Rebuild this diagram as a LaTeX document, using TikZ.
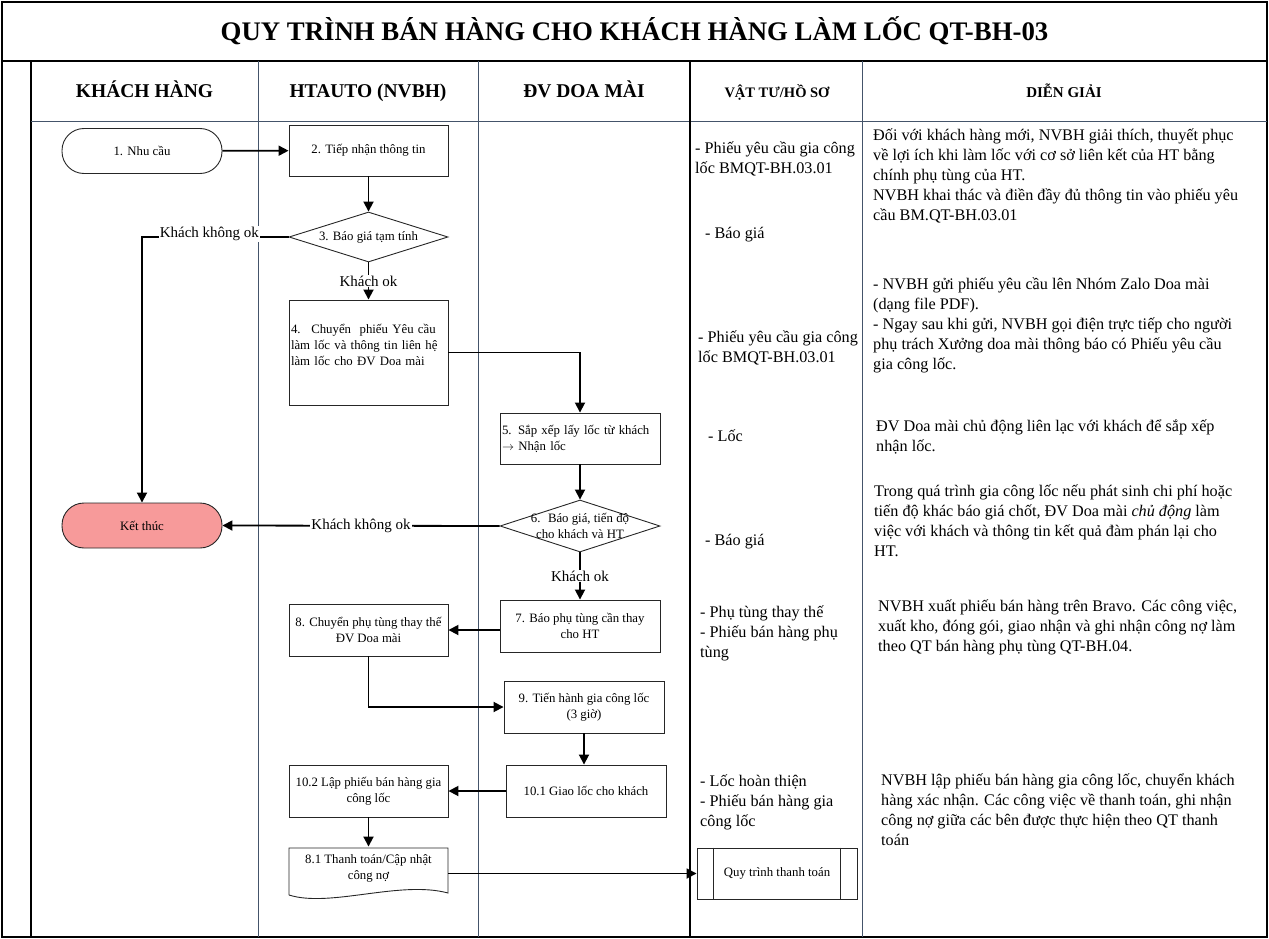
\documentclass[tikz,border=0pt]{standalone}
\usepackage{fontspec}
\setmainfont{Liberation Serif}
\usepackage{xcolor}
\usetikzlibrary{arrows.meta,positioning,shapes.geometric}

\definecolor{lanecol}{HTML}{44546A}
\definecolor{boxcol}{HTML}{262626}
\definecolor{endcol}{HTML}{F79A9A}
\newcommand{\boxfont}{\fontsize{12.8}{16}\selectfont}
\newcommand{\notefont}{\fontsize{16.2}{20}\selectfont}
\newcommand{\lblfont}{\fontsize{15}{16}\selectfont}

\begin{document}
\begin{tikzpicture}[x=1pt, y=-1pt,
  proc/.style={draw=boxcol, line width=0.9pt, rectangle, minimum width=159pt,
    minimum height=51pt, align=center, font=\boxfont, inner sep=2pt},
  term/.style={draw=boxcol, line width=0.9pt, rectangle, rounded corners=22pt,
    minimum width=160pt, minimum height=45pt, font=\boxfont},
  dec/.style={draw=boxcol, line width=0.9pt, diamond, inner sep=0pt,
    minimum width=159pt, minimum height=50pt},
  dectext/.style={font=\boxfont, align=center, inner sep=0pt},
  flow/.style={line width=1.8pt, -{Triangle[length=10pt,width=10pt]}},
  lbl/.style={font=\lblfont, fill=white, inner sep=1pt},
  note/.style={anchor=north west, align=left, inner sep=0pt, font=\notefont,
    execute at begin node=\strut},
  head/.style={font=\fontsize{19.5}{22}\selectfont\bfseries, text height=14pt,
    text depth=4pt},
  lane/.style={draw=lanecol, line width=0.9pt}]
\useasboundingbox (0,0) rectangle (1269,939);

\draw[line width=1.4pt] (2,2) rectangle (1267,937);
\draw[line width=1.2pt] (2,61) -- (1267,61);
\draw[line width=1.2pt] (31,61) -- (31,937);
\draw[lane] (31,121) -- (1267,121);
\draw[lane] (258,61) -- (258,937);
\draw[lane] (478,61) -- (478,937);
\draw[line width=1.2pt] (690,61) -- (690,937);
\draw[lane] (862,61) -- (862,937);

\node[font=\fontsize{26.8}{30}\selectfont\bfseries] (title) at (634.5,31)
  {QUY TRÌNH BÁN HÀNG CHO KHÁCH HÀNG LÀM LỐC QT-BH-03};
\node[head] (hkh) at (144.5,93) {KHÁCH HÀNG};
\node[head] (hht) at (368,93) {HTAUTO (NVBH)};
\node[head] (hdv) at (584,93) {ĐV DOA MÀI};
\node[head, font=\fontsize{14.5}{17}\selectfont\bfseries] (hvt) at (777,93) {VẬT TƯ/HỒ SƠ};
\node[head, font=\fontsize{15}{17}\selectfont\bfseries] (hdg) at (1064,93) {DIỄN GIẢI};

\node[term] (n1) at (142,151) {1. Nhu cầu};
\node[proc] (n2) at (368.5,150.5) {2. Tiếp nhận thông tin};
\node[dec, label={[dectext]center:3. Báo giá tạm tính}] (n3) at (368.5,237) {};
\node[proc, minimum height=105pt, text width=155pt, align=left] (n4) at (368.5,352.5)
  {4.~ Chuyển~ phiếu Yêu cầu\\làm lốc và thông tin liên hệ\\làm lốc cho ĐV Doa mài\\~};
\node[proc, minimum width=160pt, text width=156pt, align=left] (n5) at (580,438.5)
  {5. Sắp xếp lấy lốc từ khách\\$\rightarrow$ Nhận lốc};
\node[dec, minimum width=160pt, minimum height=52pt,
  label={[dectext]center:6.~ Báo giá, tiến độ\\cho khách và HT}] (n6) at (580,526) {};
\node[proc, minimum width=160pt, minimum height=52pt] (n7) at (580,626)
  {7. Báo phụ tùng cần thay\\cho HT};
\node[proc, minimum height=52pt] (n8) at (368.5,630)
  {8. Chuyển phụ tùng thay thế\\ĐV Doa mài};
\node[proc, minimum width=160pt, minimum height=52pt] (n9) at (584,707)
  {9. Tiến hành gia công lốc\\(3 giờ)};
\node[proc, minimum width=160pt, minimum height=52pt] (n101) at (586,791)
  {10.1 Giao lốc cho khách};
\node[proc, minimum height=52pt] (n102) at (368.5,791)
  {10.2 Lập phiếu bán hàng gia\\công lốc};
\node[proc, draw=none, minimum height=42pt] (n81) at (368.5,868)
  {8.1 Thanh toán/Cập nhật\\công nợ};
\draw[boxcol, line width=0.9pt] (289,895) -- (289,848) -- (448,848) -- (448,893)
  .. controls (400,880) and (330,908) .. (289,895);
\node[proc, minimum width=160pt, minimum height=51pt] (pay) at (777,873.5)
  {Quy trình thanh toán};
\draw[boxcol, line width=0.9pt] ([xshift=17pt]pay.north west) -- ([xshift=17pt]pay.south west);
\draw[boxcol, line width=0.9pt] ([xshift=-17pt]pay.north east) -- ([xshift=-17pt]pay.south east);
\node[term, fill=endcol] (end) at (142,525.5) {Kết thúc};

\draw[flow] (n1) -- (n2);
\draw[flow] (n2) -- (n3);
\draw[flow] (n3) -- node[lbl] {Khách ok} (n4);
\draw[flow] (n3.west) -| node[lbl, pos=0.27, yshift=3pt] {Khách không ok} (end.north);
\draw[flow] (n4.east) -| (n5.north);
\draw[flow] (n5) -- (n6);
\draw[flow] (n6.west) -- node[lbl] {Khách không ok} (end.east);
\draw[flow] (n6) -- node[lbl] {Khách ok} (n7);
\draw[flow] (n8.east -| n7.west) -- (n8.east);
\draw[flow] (n8.south) |- (n9.west);
\draw[flow] (n9.south) -- (n9.south |- n101.north);
\draw[flow] (n101.west) -- (n102.east);
\draw[flow] (n102.south) -- (n81.north);
\draw[flow] (n81.east |- pay.west) -- (pay.west);

\node[note] (m1) at (695,142) {- Phiếu yêu cầu gia công\\lốc BMQT-BH.03.01};
\node[note] (m2) at (705,224) {- Báo giá};
\node[note] (m3) at (698,331) {- Phiếu yêu cầu gia công\\lốc BMQT-BH.03.01};
\node[note] (m4) at (708,427) {- Lốc};
\node[note] (m5) at (705,531) {- Báo giá};
\node[note] (m6) at (700,606) {- Phụ tùng thay thế\\- Phiếu bán hàng phụ\\tùng};
\node[note] (m7) at (700,775) {- Lốc hoàn thiện\\- Phiếu bán hàng gia\\công lốc};

\node[note] (d1) at (873,129) {Đối với khách hàng mới, NVBH giải thích, thuyết phục\\
  về lợi ích khi làm lốc với cơ sở liên kết của HT bằng\\chính phụ tùng của HT.\\
  NVBH khai thác và điền đầy đủ thông tin vào phiếu yêu\\cầu BM.QT-BH.03.01};
\node[note] (d2) at (873,278) {- NVBH gửi phiếu yêu cầu lên Nhóm Zalo Doa mài\\
  (dạng file PDF).\\- Ngay sau khi gửi, NVBH gọi điện trực tiếp cho người\\
  phụ trách Xưởng doa mài thông báo có Phiếu yêu cầu\\gia công lốc.};
\node[note] (d3) at (876,420) {ĐV Doa mài chủ động liên lạc với khách để sắp xếp\\nhận lốc.};
\node[note] (d4) at (874,485) {Trong quá trình gia công lốc nếu phát sinh chi phí hoặc\\
  tiến độ khác báo giá chốt, ĐV Doa mài \textit{chủ động} làm\\
  việc với khách và thông tin kết quả đàm phán lại cho\\HT.};
\node[note] (d5) at (878,600) {NVBH xuất phiếu bán hàng trên Bravo. Các công việc,\\
  xuất kho, đóng gói, giao nhận và ghi nhận công nợ làm\\
  theo QT bán hàng phụ tùng QT-BH.04.};
\node[note] (d6) at (881,774) {NVBH lập phiếu bán hàng gia công lốc, chuyển khách\\
  hàng xác nhận. Các công việc về thanh toán, ghi nhận\\
  công nợ giữa các bên được thực hiện theo QT thanh\\toán};
\end{tikzpicture}
\end{document}
